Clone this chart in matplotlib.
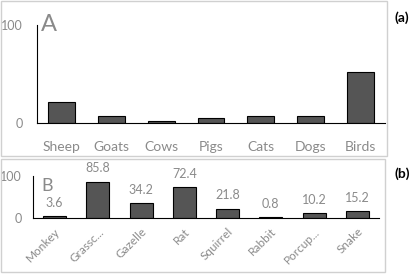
import matplotlib
matplotlib.use('Agg')
import matplotlib.pyplot as plt
from matplotlib.patches import Rectangle

plt.rcParams['font.family'] = ['Lato', 'DejaVu Sans']

# panel A: livestock / pets
animales_a = ['Sheep', 'Goats', 'Cows', 'Pigs', 'Cats', 'Dogs', 'Birds']
valores_a = [21, 7, 2, 5, 7, 7, 52]

# panel B: wild species
animales_b = ['Monkey', 'Grassc...', 'Gazelle', 'Rat', 'Squirrel', 'Rabbit', 'Porcup...', 'Snake']
valores_b = [3.6, 85.8, 34.2, 72.4, 21.8, 0.8, 10.2, 15.2]

W, H = 419, 275
GRIS = '#8a8a8a'
BARRA = '#555555'

fig = plt.figure(figsize=(W / 100, H / 100), dpi=100)

def px(x0, y0, x1, y1):
    # caja en pixeles (origen arriba a la izquierda) -> coords de figura
    return [x0 / W, 1 - y1 / H, (x1 - x0) / W, (y1 - y0) / H]

# marcos grises de cada panel
for (x0, y0, x1, y1) in [(1, 0.5, 387, 156), (1, 159, 385, 271.5)]:
    fig.patches.append(Rectangle((x0 / W, 1 - y1 / H), (x1 - x0) / W, (y1 - y0) / H,
                                 transform=fig.transFigure, fill=False,
                                 edgecolor='#d0d0d0', lw=1))

def estilo(ax):
    for s in ['top', 'right']:
        ax.spines[s].set_visible(False)
    ax.spines['left'].set_linewidth(0.8)
    ax.spines['bottom'].set_linewidth(0.8)
    ax.set_ylim(0, 100)
    ax.set_yticks([0, 100])
    ax.tick_params(length=0, colors=GRIS)

# ==== panel A ====
ax1 = fig.add_axes(px(37, 25, 385, 123))
x = range(len(animales_a))
ax1.bar(x, valores_a, 0.54, color=BARRA, edgecolor='black', lw=0.8)
ax1.set_xlim(-0.5, len(animales_a) - 0.5)
estilo(ax1)
ax1.set_xticks(list(x))
ax1.set_xticklabels(animales_a, fontsize=10)
ax1.tick_params(axis='x', pad=13)
ax1.tick_params(axis='y', pad=10, labelsize=9)
ax1.text(0.01, 1.0, 'A', transform=ax1.transAxes, fontsize=17, color=GRIS,
         ha='left', va='center')

# ==== panel B ====
ax2 = fig.add_axes(px(33, 175.7, 379, 217.7))
x = range(len(animales_b))
ax2.bar(x, valores_b, 0.53, color=BARRA, edgecolor='black', lw=0.8)
ax2.set_xlim(-0.5, len(animales_b) - 0.5)
estilo(ax2)
ax2.set_xticks(list(x))
ax2.set_xticklabels(animales_b, fontsize=8.5, rotation=45, ha='right', rotation_mode='anchor')
ax2.tick_params(axis='x', pad=6)
ax2.tick_params(axis='y', pad=8, labelsize=9)
for i, v in enumerate(valores_b):
    ax2.annotate(f'{v}', (i, v), xytext=(0, 9.5), textcoords='offset points',
                 ha='center', va='center', fontsize=9, color=GRIS)
ax2.text(0.025, 0.75, 'B', transform=ax2.transAxes, fontsize=13, color=GRIS,
         ha='left', va='center')

fig.text(402 / W, 1 - 18 / H, '(a)', fontsize=10, fontweight='bold', ha='center', va='center')
fig.text(402 / W, 1 - 174 / H, '(b)', fontsize=10, fontweight='bold', ha='center', va='center')

fig.savefig('out.png', dpi=100)
